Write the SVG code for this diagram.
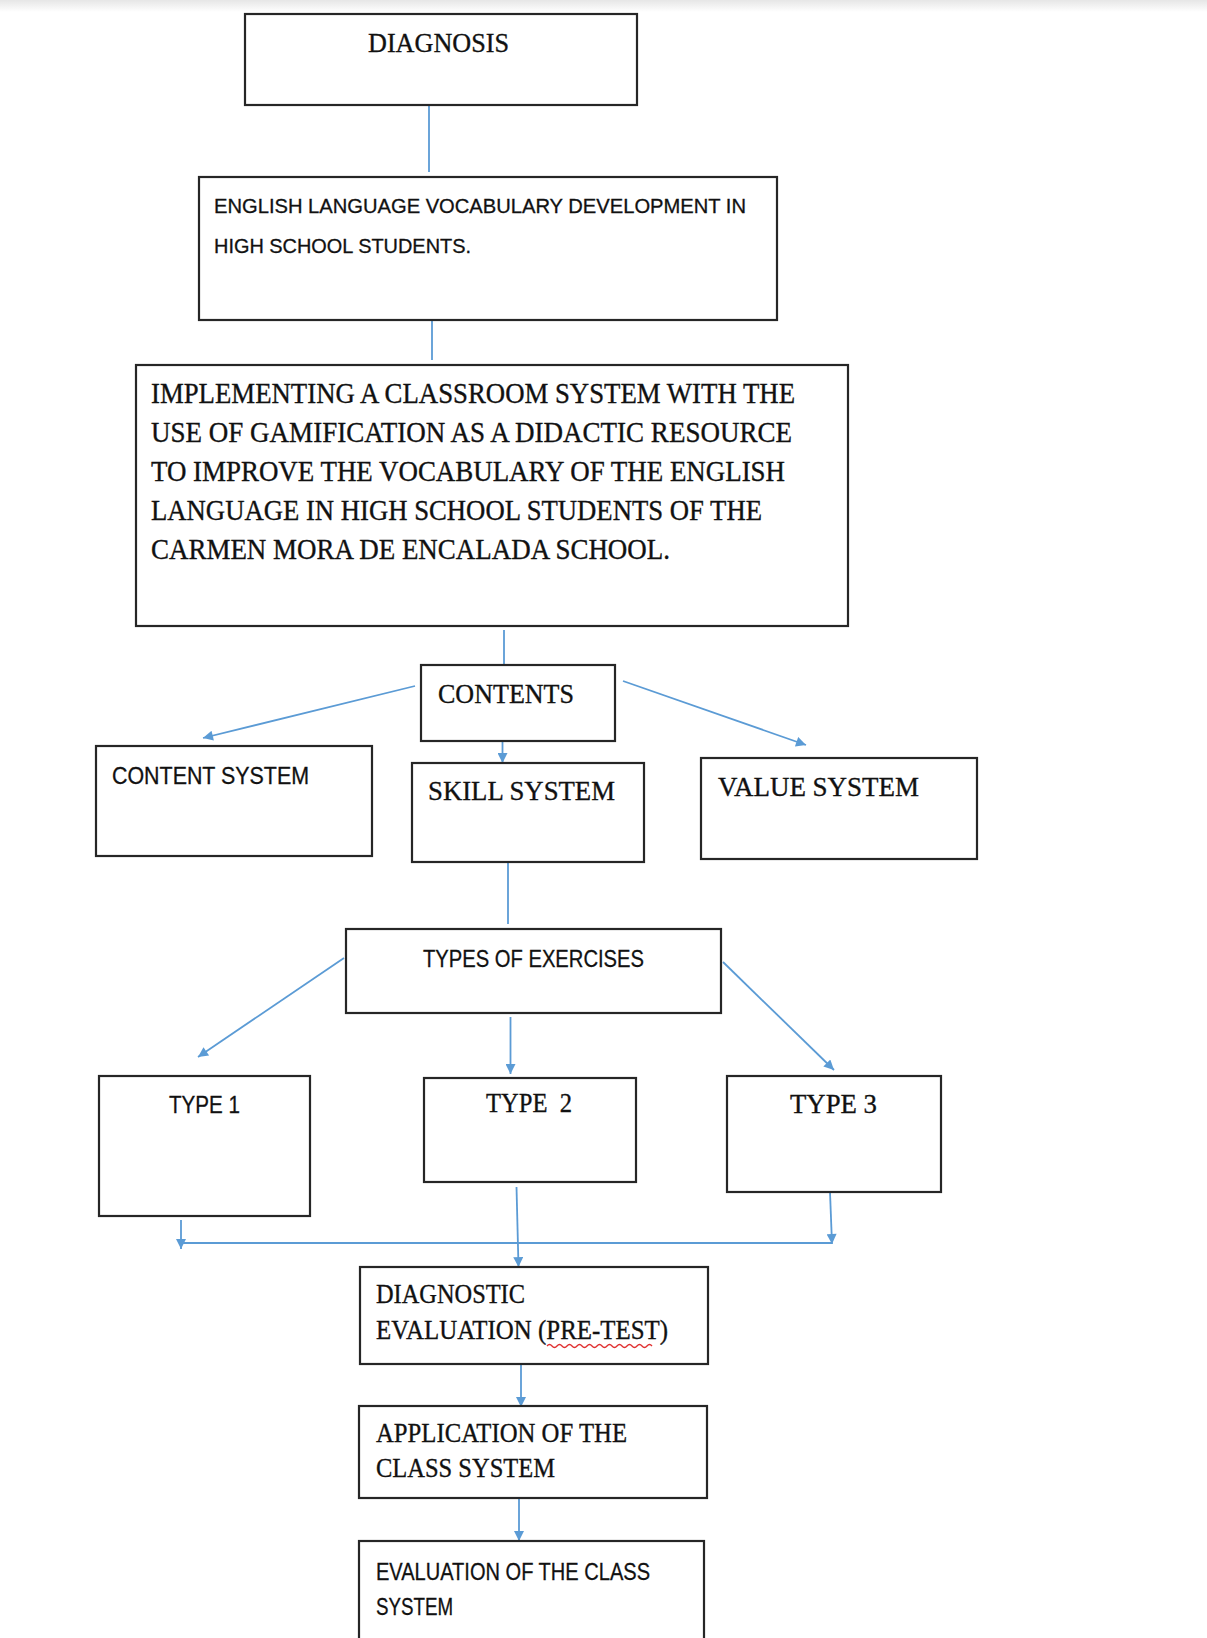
<svg xmlns="http://www.w3.org/2000/svg" width="1207" height="1638" viewBox="0 0 1207 1638">
<defs>
<linearGradient id="topbar" x1="0" y1="0" x2="0" y2="1">
<stop offset="0" stop-color="#e6e6e6"/>
<stop offset="1" stop-color="#ffffff"/>
</linearGradient>
<marker id="arr" viewBox="0 0 10 10" refX="10" refY="5" markerWidth="12" markerHeight="10" markerUnits="userSpaceOnUse" orient="auto">
<path d="M0,0 L10,5 L0,10 z" fill="#5b9bd5"/>
</marker>
<style>
.box{fill:#ffffff;stroke:#262626;stroke-width:2.2}
.con{fill:none;stroke:#5b9bd5;stroke-width:1.8}
.serif{font-family:"Liberation Serif","Times New Roman",serif;fill:#111;stroke:#111;stroke-width:0.35}
.sans{font-family:"Liberation Sans",Arial,sans-serif;fill:#111;stroke:#111;stroke-width:0.3}
</style>
</defs>
<rect x="0" y="0" width="1207" height="1638" fill="#ffffff"/>
<rect x="0" y="0" width="1207" height="12" fill="url(#topbar)"/>

<g id="connectors">
<line class="con" x1="429" y1="105" x2="429" y2="172"/>
<line class="con" x1="432" y1="320" x2="432" y2="360"/>
<line class="con" x1="504" y1="630" x2="504" y2="664"/>
<line class="con" x1="415" y1="686" x2="203" y2="738" marker-end="url(#arr)"/>
<line class="con" x1="502.5" y1="741" x2="502.5" y2="763" marker-end="url(#arr)"/>
<line class="con" x1="623" y1="681" x2="806" y2="745" marker-end="url(#arr)"/>
<line class="con" x1="508" y1="862" x2="508" y2="924"/>
<line class="con" x1="344" y1="958" x2="198" y2="1057" marker-end="url(#arr)"/>
<line class="con" x1="510.5" y1="1017" x2="510.5" y2="1074" marker-end="url(#arr)"/>
<line class="con" x1="723" y1="962" x2="834" y2="1070" marker-end="url(#arr)"/>
<line class="con" x1="181" y1="1220" x2="181" y2="1249" marker-end="url(#arr)"/>
<line class="con" x1="181" y1="1243" x2="832" y2="1243"/>
<line class="con" x1="516.5" y1="1187" x2="518.5" y2="1267" marker-end="url(#arr)"/>
<line class="con" x1="830" y1="1192" x2="832" y2="1244" marker-end="url(#arr)"/>
<line class="con" x1="521" y1="1364" x2="521" y2="1407" marker-end="url(#arr)"/>
<line class="con" x1="519" y1="1498" x2="519" y2="1541" marker-end="url(#arr)"/>
</g>

<g id="diagnosis">
<rect class="box" x="245" y="14" width="392" height="91"/>
<text class="serif" x="368" y="52" font-size="28" textLength="141" lengthAdjust="spacingAndGlyphs">DIAGNOSIS</text>
</g>

<g id="english">
<rect class="box" x="199" y="177" width="578" height="143"/>
<text class="sans" x="214" y="213" font-size="21" textLength="532" lengthAdjust="spacingAndGlyphs">ENGLISH LANGUAGE VOCABULARY DEVELOPMENT IN</text>
<text class="sans" x="214" y="253" font-size="21" textLength="257" lengthAdjust="spacingAndGlyphs">HIGH SCHOOL STUDENTS.</text>
</g>

<g id="implementing">
<rect class="box" x="136" y="365" width="712" height="261"/>
<text class="serif" x="151" y="403" font-size="30" textLength="644" lengthAdjust="spacingAndGlyphs">IMPLEMENTING A CLASSROOM SYSTEM WITH THE</text>
<text class="serif" x="151" y="442" font-size="30" textLength="641" lengthAdjust="spacingAndGlyphs">USE OF GAMIFICATION AS A DIDACTIC RESOURCE</text>
<text class="serif" x="151" y="481" font-size="30" textLength="634" lengthAdjust="spacingAndGlyphs">TO IMPROVE THE VOCABULARY OF THE ENGLISH</text>
<text class="serif" x="151" y="520" font-size="30" textLength="611" lengthAdjust="spacingAndGlyphs">LANGUAGE IN HIGH SCHOOL STUDENTS OF THE</text>
<text class="serif" x="151" y="559" font-size="30" textLength="519" lengthAdjust="spacingAndGlyphs">CARMEN MORA DE ENCALADA SCHOOL.</text>
</g>

<g id="contents">
<rect class="box" x="421" y="665" width="194" height="76"/>
<text class="serif" x="438" y="703" font-size="28" textLength="136" lengthAdjust="spacingAndGlyphs">CONTENTS</text>
</g>

<g id="content-system">
<rect class="box" x="96" y="746" width="276" height="110"/>
<text class="sans" x="112" y="784" font-size="24" textLength="197" lengthAdjust="spacingAndGlyphs">CONTENT SYSTEM</text>
</g>

<g id="skill-system">
<rect class="box" x="412" y="763" width="232" height="99"/>
<text class="serif" x="428" y="800" font-size="28" textLength="187" lengthAdjust="spacingAndGlyphs">SKILL SYSTEM</text>
</g>

<g id="value-system">
<rect class="box" x="701" y="758" width="276" height="101"/>
<text class="serif" x="718" y="796" font-size="28" textLength="201" lengthAdjust="spacingAndGlyphs">VALUE SYSTEM</text>
</g>

<g id="types">
<rect class="box" x="346" y="929" width="375" height="84"/>
<text class="sans" x="423" y="967" font-size="24" textLength="221" lengthAdjust="spacingAndGlyphs">TYPES OF EXERCISES</text>
</g>

<g id="type1">
<rect class="box" x="99" y="1076" width="211" height="140"/>
<text class="sans" x="169" y="1113" font-size="24" textLength="71" lengthAdjust="spacingAndGlyphs">TYPE 1</text>
</g>

<g id="type2">
<rect class="box" x="424" y="1078" width="212" height="104"/>
<text class="serif" x="486" y="1112" font-size="27" textLength="86" lengthAdjust="spacingAndGlyphs" xml:space="preserve">TYPE  2</text>
</g>

<g id="type3">
<rect class="box" x="727" y="1076" width="214" height="116"/>
<text class="serif" x="790" y="1113" font-size="27" textLength="87" lengthAdjust="spacingAndGlyphs">TYPE 3</text>
</g>

<g id="diagnostic">
<rect class="box" x="360" y="1267" width="348" height="97"/>
<text class="serif" x="376" y="1303" font-size="28" textLength="149" lengthAdjust="spacingAndGlyphs">DIAGNOSTIC</text>
<text class="serif" x="376" y="1339" font-size="28" textLength="292" lengthAdjust="spacingAndGlyphs">EVALUATION (PRE-TEST)</text>
<path d="M547,1346 q2.5,-3 5,0 t5,0 t5,0 t5,0 t5,0 t5,0 t5,0 t5,0 t5,0 t5,0 t5,0 t5,0 t5,0 t5,0 t5,0 t5,0 t5,0 t5,0 t5,0 t5,0 t5,0" fill="none" stroke="#e03030" stroke-width="1.3"/>
</g>

<g id="application">
<rect class="box" x="359" y="1406" width="348" height="92"/>
<text class="serif" x="376" y="1442" font-size="28" textLength="251" lengthAdjust="spacingAndGlyphs">APPLICATION OF THE</text>
<text class="serif" x="376" y="1477" font-size="28" textLength="179" lengthAdjust="spacingAndGlyphs">CLASS SYSTEM</text>
</g>

<g id="evaluation">
<rect class="box" x="359" y="1541" width="345" height="120"/>
<text class="sans" x="376" y="1580" font-size="24" textLength="274" lengthAdjust="spacingAndGlyphs">EVALUATION OF THE CLASS</text>
<text class="sans" x="376" y="1615" font-size="24" textLength="77" lengthAdjust="spacingAndGlyphs">SYSTEM</text>
</g>
</svg>
